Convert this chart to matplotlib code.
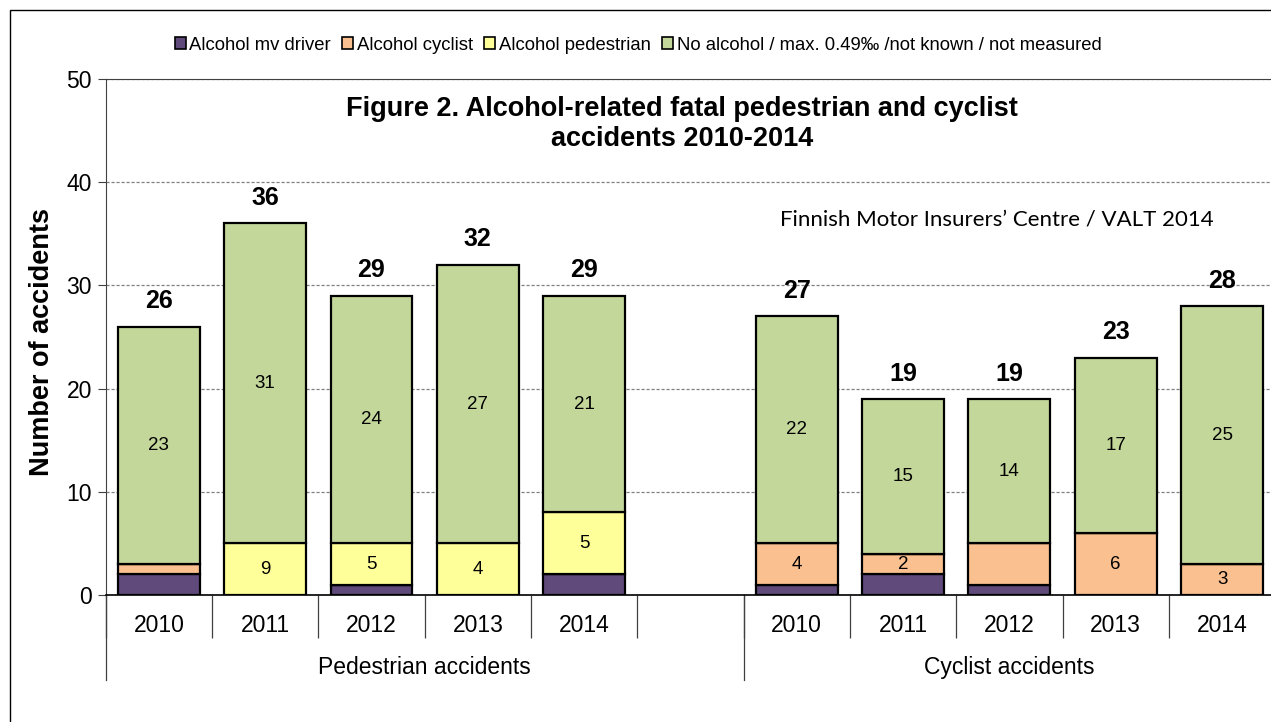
import numpy as np
import matplotlib
matplotlib.use('Agg')
import matplotlib.pyplot as plt
from matplotlib.patches import Patch, Rectangle
from matplotlib.transforms import blended_transform_factory

plt.rcParams['font.family'] = ['Liberation Sans', 'DejaVu Sans']

# Data
years = ['2010', '2011', '2012', '2013', '2014']
groups = ['Pedestrian accidents', 'Cyclist accidents']
series = ['Alcohol mv driver', 'Alcohol cyclist', 'Alcohol pedestrian',
          'No alcohol / max. 0.49\u2030 /not known / not measured']
colors = ['#604A7B', '#FAC090', '#FFFF99', '#C4D79B']

# pedestrian accidents
ped_driver = [2, 0, 1, 0, 2]
ped_cyclist = [1, 0, 0, 0, 0]
ped_pedestrian = [0, 5, 4, 5, 6]
ped_none = [23, 31, 24, 27, 21]
# cyclist accidents
cyc_driver = [1, 2, 1, 0, 0]
cyc_cyclist = [4, 2, 4, 6, 3]
cyc_pedestrian = [0, 0, 0, 0, 0]
cyc_none = [22, 15, 14, 17, 25]

# data labels as printed in the source chart (None = no label)
ped_pedestrian_labels = [None, '9', '5', '4', '5']
cyc_cyclist_labels = ['4', '2', None, '6', '3']

x_ped = np.arange(5)
x_cyc = np.arange(6, 11)

fig = plt.figure(figsize=(12.71, 7.22), dpi=100)
ax = fig.add_axes([105.7 / 1271, 127 / 722, 1169.5 / 1271, 516 / 722])

bar_w = 0.77
edge = dict(edgecolor='black', linewidth=1.6)


def draw_group(xs, stack, labels):
    bottom = np.zeros(len(xs))
    for vals, col, lab in zip(stack, colors, labels):
        vals = np.array(vals, dtype=float)
        ax.bar(xs, vals, bar_w, bottom=bottom, color=col, zorder=3, **edge)
        if lab is not None:
            for x, b, v, t in zip(xs, bottom, vals, lab):
                if t is not None:
                    ax.text(x, b + v / 2, t, ha='center', va='center',
                            fontsize=13.5, zorder=4)
        bottom += vals
    for x, t in zip(xs, bottom):
        ax.text(x, t + 1.3, '%d' % t, ha='center', va='bottom',
                fontsize=18, fontweight='bold')


draw_group(x_ped, [ped_driver, ped_cyclist, ped_pedestrian, ped_none],
           [None, None, ped_pedestrian_labels, [str(v) for v in ped_none]])
draw_group(x_cyc, [cyc_driver, cyc_cyclist, cyc_pedestrian, cyc_none],
           [None, cyc_cyclist_labels, None, [str(v) for v in cyc_none]])

ax.set_xlim(-0.5, 10.5)
ax.set_ylim(0, 50)
ax.set_yticks(range(0, 51, 10))
ax.tick_params(axis='y', length=6, color='#404040', labelsize=16.5, pad=4)
ax.yaxis.grid(True, linestyle=(0, (2.5, 1.5)), color='#808080', linewidth=0.9)
ax.set_axisbelow(True)

ax.spines['right'].set_visible(False)
ax.spines['top'].set_color('#404040')
ax.spines['left'].set_color('#404040')
ax.spines['bottom'].set_color('black')
ax.spines['bottom'].set_linewidth(1.2)

centers = np.concatenate([x_ped, x_cyc])
ax.set_xticks(centers)
ax.set_xticklabels(years + years, fontsize=16.5)
ax.tick_params(axis='x', which='major', length=0, pad=14)
ax.set_xticks(np.arange(-0.5, 10.5, 1.0), minor=True)
ax.tick_params(axis='x', which='minor', length=31, color='#404040', width=0.9)

trans = blended_transform_factory(ax.transData, ax.transAxes)
for xb in [-0.5, 5.5]:
    ax.plot([xb, xb], [0, -0.165], transform=trans, color='#404040',
            linewidth=0.9, clip_on=False)
ax.text(2.5, -0.14, groups[0], transform=trans, ha='center', va='center',
        fontsize=16.5)
ax.text(8.0, -0.14, groups[1], transform=trans, ha='center', va='center',
        fontsize=16.5)

ax.set_ylabel('Number of accidents', fontsize=19.5, fontweight='bold')
ax.yaxis.set_label_coords(-0.043, 0.49)

fig.text(682 / 1271, 1 - 124 / 722,
         'Figure 2. Alcohol-related fatal pedestrian and cyclist\naccidents 2010-2014',
         ha='center', va='center', fontsize=19.5, fontweight='bold',
         linespacing=1.25)
fig.text(780 / 1271, 1 - 220 / 722,
         'Finnish Motor Insurers\u2019 Centre / VALT 2014',
         ha='left', va='center', fontsize=16, family=['Lato', 'DejaVu Sans'])

handles = [Patch(facecolor=c, edgecolor='black', linewidth=1.2) for c in colors]
fig.legend(handles, series, loc='center', bbox_to_anchor=(638 / 1271, 1 - 45 / 722),
           ncol=4, frameon=False, handlelength=0.6, handleheight=0.6,
           handletextpad=0.2, columnspacing=0.6,
           prop={'family': ['Liberation Sans Narrow', 'Liberation Sans'], 'size': 13.3})

fig.patches.append(Rectangle((9.5 / 1271, -0.1), 1.2, 1.1 - 10 / 722,
                             transform=fig.transFigure, fill=False,
                             edgecolor='black', linewidth=1.0))

fig.savefig('out.png', dpi=100)
